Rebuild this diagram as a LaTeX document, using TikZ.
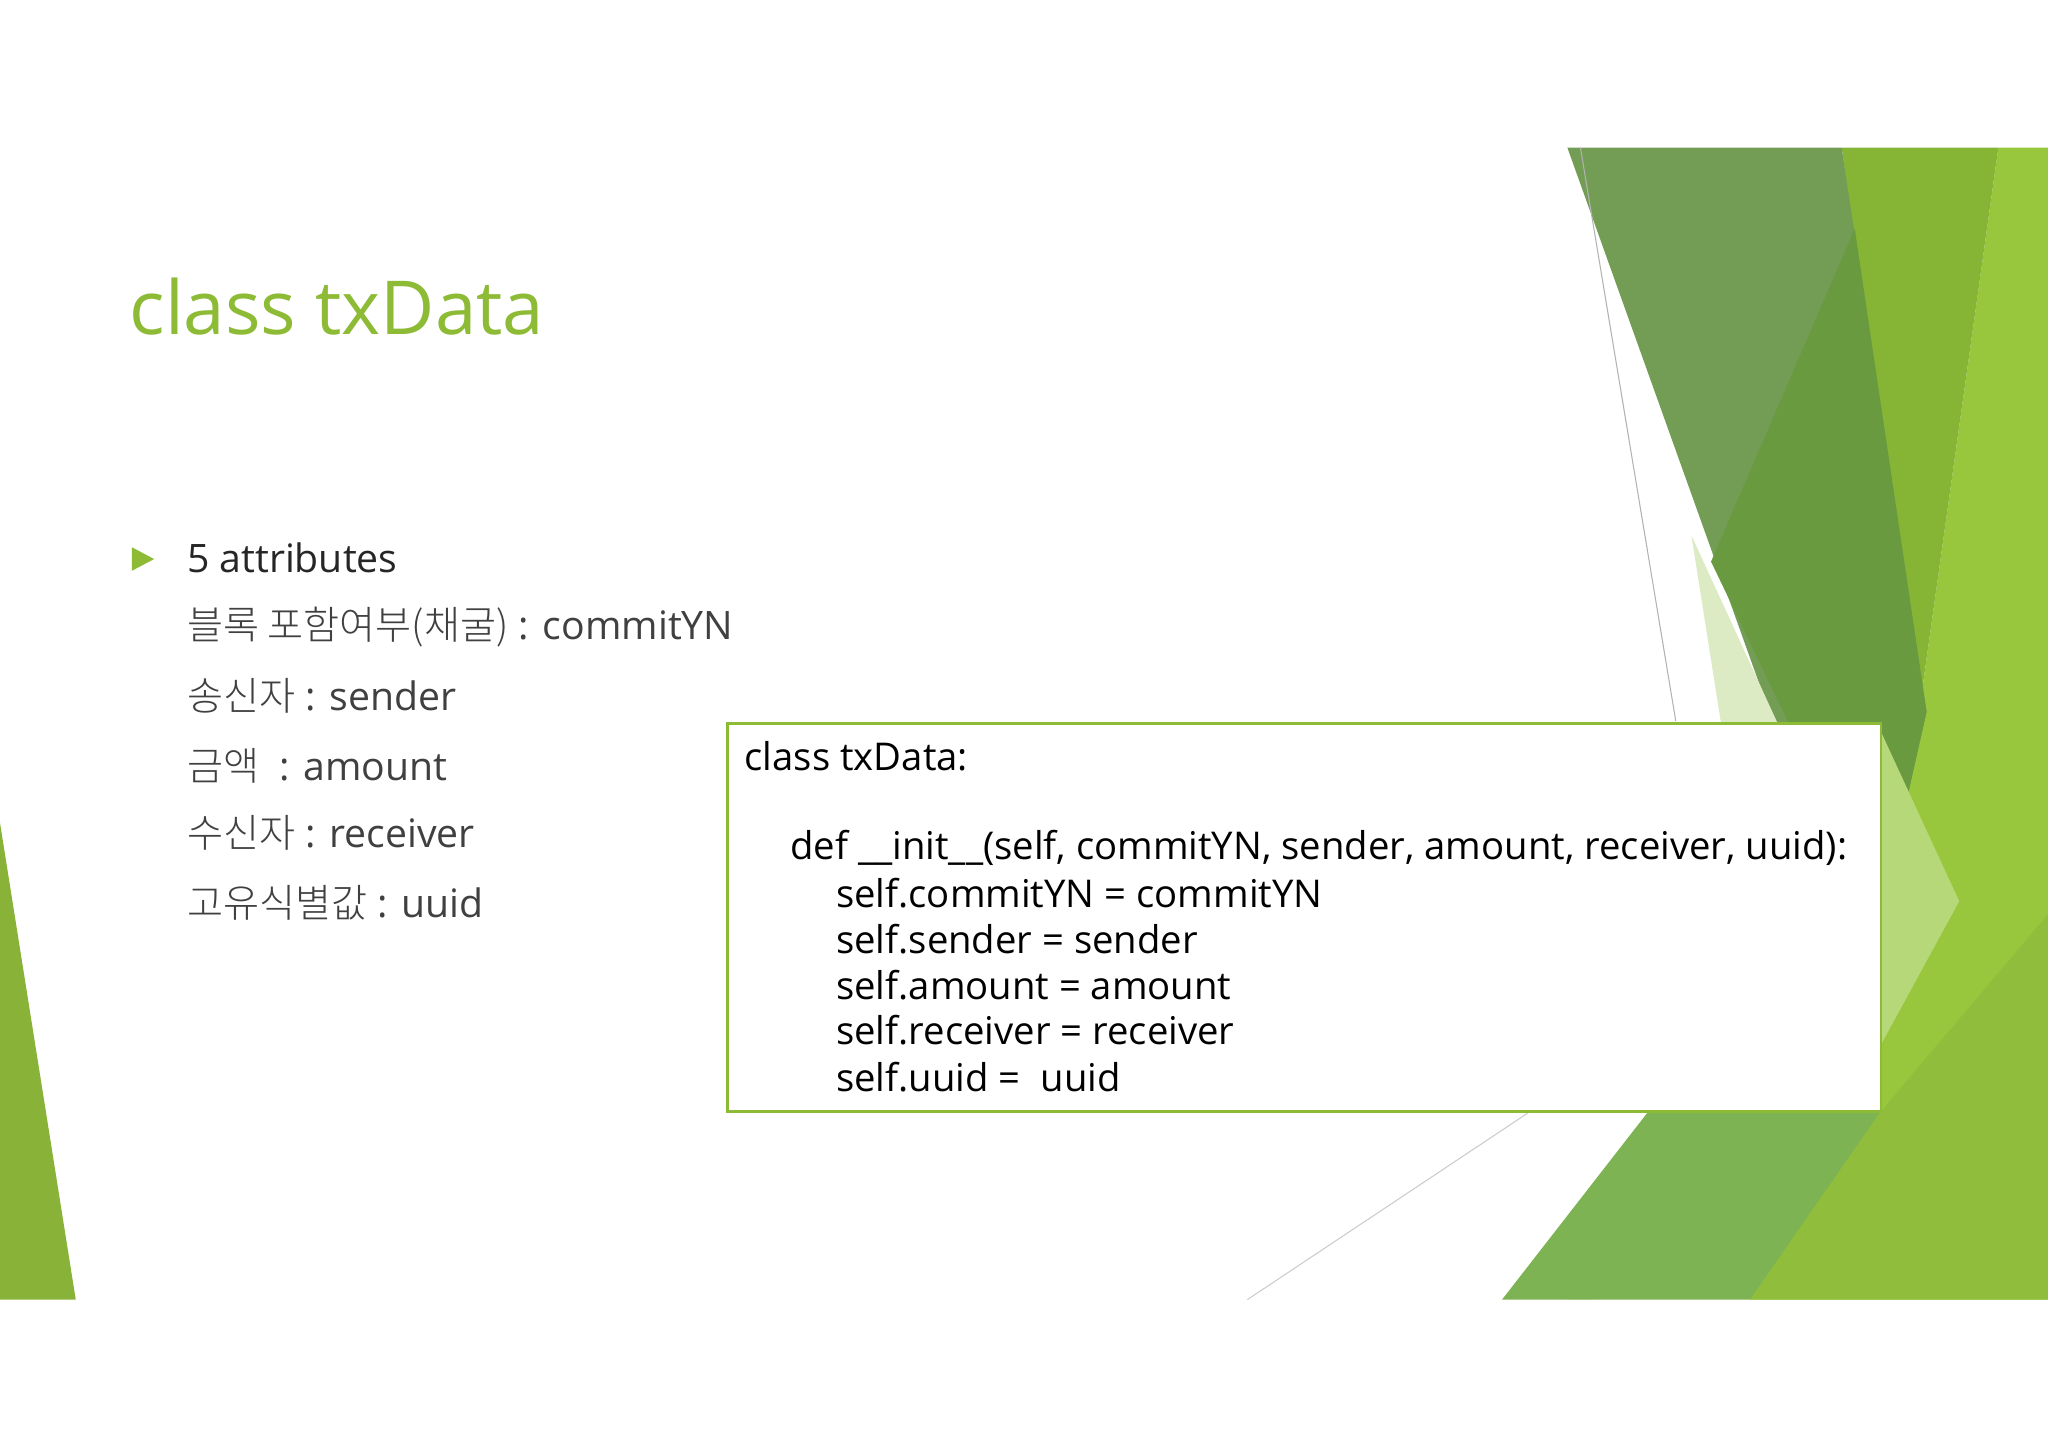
\documentclass[tikz,border=0pt]{standalone}
\usepackage{fontspec}
\setmainfont{Open Sans}
\newfontfamily\kr{Noto Sans CJK KR Light}
\definecolor{titleg}{HTML}{8DBB35}
\definecolor{mutedg}{HTML}{739D55}
\definecolor{darkg}{HTML}{6A9A40}
\definecolor{yg}{HTML}{86B536}
\definecolor{brg}{HTML}{98C73E}
\definecolor{paleg}{HTML}{DCEBC4}
\definecolor{midg}{HTML}{7DB352}
\definecolor{txt}{HTML}{404040}
\begin{document}
\begin{tikzpicture}[x=1pt,y=-1pt,
  item/.style={anchor=west,inner sep=0,font=\fontsize{30}{36}\selectfont,text=txt},
  code/.style={anchor=west,inner sep=0,font=\fontsize{29.3}{34}\selectfont,text=black}]
\useasboundingbox (0,0) rectangle (1568,1108);
\fill[white] (0,0) rectangle (1568,1108);
% left triangle
\fill[brg!90!black] (0,630) -- (58,995) -- (0,995) -- cycle;
% right shapes
\fill[brg] (1530,113) -- (1568,113) -- (1568,995) -- (1340,995) -- (1470,540) -- cycle;
\fill[yg] (1410,113) -- (1530,113) -- (1470,540) -- cycle;
\fill[mutedg] (1200,113) -- (1410,113) -- (1475,545) -- (1440,700) -- (1360,560) -- cycle;
\fill[darkg] (1420,175) -- (1475,545) -- (1440,700) -- (1310,430) -- cycle;
\fill[paleg] (1295,410) -- (1362,556) -- (1318,556) -- cycle;
\fill[brg!70!white] (1440,560) -- (1500,690) -- (1440,800) -- cycle;
\fill[paleg] (1200,995) -- (1272,851) -- (1300,851) -- (1220,995) -- cycle;
\fill[midg] (1150,995) -- (1262,851) -- (1440,851) -- (1340,995) -- cycle;
\fill[brg!95!black] (1340,995) -- (1440,851) -- (1568,700) -- (1568,995) -- cycle;
\draw[gray!60,line width=0.8] (1210,113) -- (1283,552);
\draw[gray!40,line width=0.8] (955,995) -- (1170,852);
% title
\node[anchor=west,inner sep=0,text=titleg,font=\fontsize{57}{66}\selectfont] (title) at (99,235) {class txData};
% bullet
\fill[titleg] (101,419) -- (118,428) -- (101,437) -- cycle;
\node[item,text=black!85] (a0) at (143,427) {5 attributes};
\node[item] (a1) at (143,480) {{\kr 블록 포함여부(채굴)} : commitYN};
\node[item] (a2) at (143,533) {{\kr 송신자} : sender};
\node[item] (a3) at (143,586) {{\kr 금액} \ : amount};
\node[item] (a4) at (143,638) {{\kr 수신자} : receiver};
\node[item] (a5) at (143,691) {{\kr 고유식별값} : uuid};
% code box
\draw[fill=white,draw=titleg,line width=1.8] (557,554) rectangle (1440,851);
\node[code] (c0) at (570,579) {class txData:};
\node[code] (c1) at (605,649) {def \_\_init\_\_(self, commitYN, sender, amount, receiver, uuid):};
\node[code] (c2) at (640,684) {self.commitYN = commitYN};
\node[code] (c3) at (640,719) {self.sender = sender};
\node[code] (c4) at (640,754) {self.amount = amount};
\node[code] (c5) at (640,789) {self.receiver = receiver};
\node[code] (c6) at (640,825) {self.uuid = \ uuid};
\end{tikzpicture}
\end{document}
